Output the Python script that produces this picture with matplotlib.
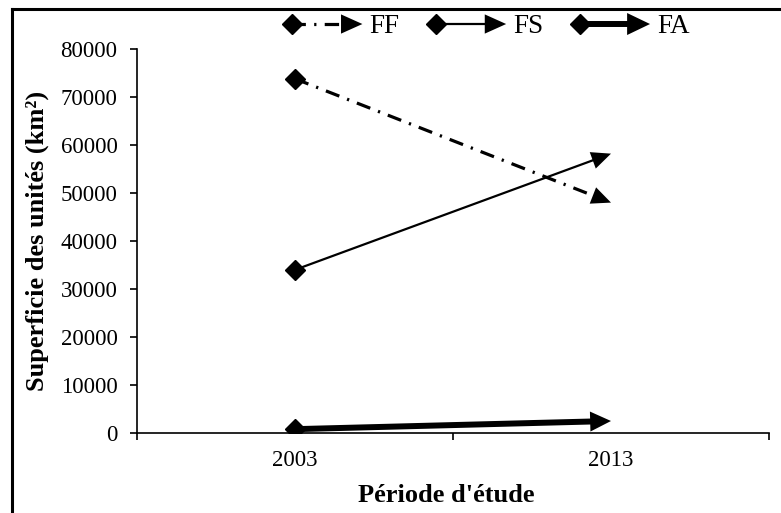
#!/usr/bin/env python3
import matplotlib
matplotlib.use('Agg')
import matplotlib.pyplot as plt
from matplotlib.lines import Line2D
from matplotlib.patches import FancyArrowPatch
from matplotlib.legend_handler import HandlerBase
import numpy as np

# data
periods = ['2003', '2013']
ff = [73800, 48000]
fs = [34000, 58200]
fa = [800, 2500]
series_names = ['FF', 'FS', 'FA']

plt.rcParams['font.family'] = ['Liberation Serif', 'DejaVu Serif']
plt.rcParams['font.size'] = 16.5

# head: length in pt, half width as fraction of length
styles = {
    'FF': dict(lw=2.3, ls=(0, (4.5, 2.6, 0.7, 2.6)), hl=14, hw=0.45),
    'FS': dict(lw=1.6, ls='-', hl=14, hw=0.45),
    'FA': dict(lw=4.3, ls='-', hl=15, hw=0.48),
}


def head_style(st):
    return '-|>,head_length=1.0,head_width=%.2f' % st['hw']


class DiamondArrowHandler(HandlerBase):
    # legend key: diamond on the left, line, arrow head on the right
    def create_artists(self, legend, orig_handle, xdescent, ydescent,
                       width, height, fontsize, trans):
        st = styles[orig_handle.get_label()]
        y = height / 2 - ydescent
        x0, x1 = -xdescent, width - xdescent
        hl = st['hl'] * 1.1
        line = Line2D([x0 + 3, x1 - hl + 1], [y, y], color='k', lw=st['lw'],
                      ls=st['ls'], solid_capstyle='butt', transform=trans)
        dia = Line2D([x0 + 4], [y], marker='D', ms=10, color='k', lw=0,
                     transform=trans)
        head = FancyArrowPatch((x0, y), (x1, y), arrowstyle=head_style(st),
                               mutation_scale=hl, color='k', lw=0,
                               shrinkA=0, shrinkB=0, transform=trans)
        return [line, dia, head]


fig = plt.figure(figsize=(7.81, 5.13), dpi=100)
ax = fig.add_axes([137 / 781, 1 - 433 / 513, (769 - 137) / 781, (433 - 49) / 513])

x = np.arange(len(periods))
ax.set_xlim(-0.5, 1.5)
ax.set_ylim(0, 80000)

handles = []
for name, vals in zip(series_names, [ff, fs, fa]):
    st = styles[name]
    # stop the line at the base of the arrow head (head length in display px)
    p0 = ax.transData.transform((x[0], vals[0]))
    p1 = ax.transData.transform((x[1], vals[1]))
    u = (p1 - p0) / np.hypot(*(p1 - p0))
    base = ax.transData.inverted().transform(p1 - u * st['hl'] * 0.8 * fig.dpi / 72)
    h, = ax.plot([x[0], base[0]], [vals[0], base[1]], color='k', lw=st['lw'],
                 ls=st['ls'], solid_capstyle='butt', label=name, zorder=3)
    ax.plot(x[0], vals[0], marker='D', ms=10, color='k', zorder=4)
    handles.append(h)
    # head only (no stroke), drawn along the full segment so it is not clipped
    ax.add_patch(FancyArrowPatch((x[0], vals[0]), (x[1], vals[1]),
                                 arrowstyle=head_style(st), mutation_scale=st['hl'],
                                 color='k', lw=0, shrinkA=0, shrinkB=0, zorder=4))

ax.set_yticks(np.arange(0, 80001, 10000))
ax.set_xticks(x)
ax.set_xticklabels(periods)
ax.set_xticks([-0.5, 0.5, 1.5], minor=True)
ax.tick_params(axis='x', which='major', length=0, pad=12)
ax.tick_params(axis='x', which='minor', length=5, width=1.2, direction='out')
ax.tick_params(axis='y', length=5, width=1.2, direction='out', pad=9)
for s in ['top', 'right']:
    ax.spines[s].set_visible(False)
for s in ['left', 'bottom']:
    ax.spines[s].set_linewidth(1.2)

ax.set_xlabel("Période d'étude", fontweight='bold', fontsize=19)
ax.xaxis.set_label_coords(0.489, -0.133)
ax.set_ylabel('Superficie des unités (km²)', fontweight='bold', fontsize=19, labelpad=8)

fig.legend(handles=handles, labels=series_names, loc='center',
           bbox_to_anchor=(488 / 781, 1 - 27 / 513), ncol=3, frameon=False,
           handler_map={Line2D: DiamondArrowHandler()},
           handlelength=2.8, handletextpad=0.25, columnspacing=1.15,
           fontsize=19.5)

# outer frame of the original figure (only top and left edges visible)
fig.add_artist(Line2D([12 / 781, 1], [1 - 9 / 513, 1 - 9 / 513], color='k', lw=2.2,
                      transform=fig.transFigure))
fig.add_artist(Line2D([12 / 781, 12 / 781], [0, 1 - 9 / 513], color='k', lw=2.2,
                      transform=fig.transFigure))

fig.savefig('out.png', dpi=100)
